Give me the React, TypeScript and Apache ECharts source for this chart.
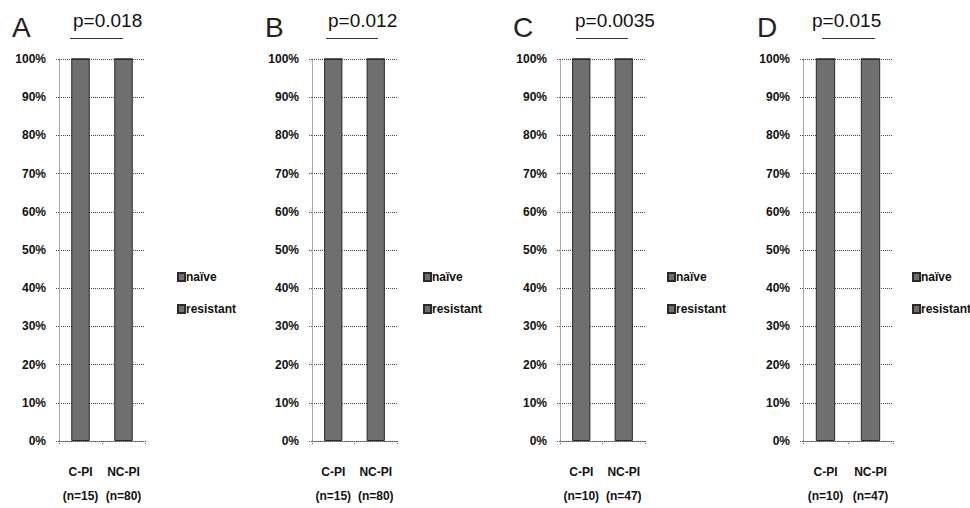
import React, { useEffect, useRef } from "react";
import * as echarts from "echarts";

const panelLetters = ["A", "B", "C", "D"];
const pValues = ["p=0.018", "p=0.012", "p=0.0035", "p=0.015"];
const categoriesA = ["C-PI\n(n=15)", "NC-PI\n(n=80)"];
const categoriesB = ["C-PI\n(n=15)", "NC-PI\n(n=80)"];
const categoriesC = ["C-PI\n(n=10)", "NC-PI\n(n=47)"];
const categoriesD = ["C-PI\n(n=10)", "NC-PI\n(n=47)"];
const naiveA = [100, 100];
const resistantA = [0, 0];
const naiveB = [100, 100];
const resistantB = [0, 0];
const naiveC = [100, 100];
const resistantC = [0, 0];
const naiveD = [100, 100];
const resistantD = [0, 0];
const yTicks = [0, 10, 20, 30, 40, 50, 60, 70, 80, 90, 100];
const seriesNames = ["naïve", "resistant"];

const categories = [categoriesA, categoriesB, categoriesC, categoriesD];
const naive = [naiveA, naiveB, naiveC, naiveD];
const resistant = [resistantA, resistantB, resistantC, resistantD];

const FONT = "'Liberation Sans', Arial, sans-serif";
const gridLefts = [59, 312, 560, 803];
const gridWidths = [86, 85, 85, 90];
const legendLefts = [172, 418, 662, 907];
const letterX = [12, 265, 513, 757];
const pX = [73, 328, 575, 812];
const ulines = [[70, 123], [326, 378], [576, 628], [822, 875]];

export default function App() {
  const ref = useRef<HTMLDivElement>(null);
  useEffect(() => {
    if (!ref.current) return;
    const chart = echarts.init(ref.current, null, { renderer: "svg" });
    const barStyle = { color: "#6f6f6f", borderColor: "#2a2a2a", borderWidth: 1 };
    const grid = gridLefts.map((l, i) => ({ left: l, top: 59, width: gridWidths[i], height: 383 }));
    const xAxis = categories.map((cats, i) => ({
      type: "category",
      gridIndex: i,
      data: cats,
      axisLine: { lineStyle: { color: "#555", type: "dotted" } },
      axisTick: { show: true, length: 4, lineStyle: { color: "#555", type: "dotted" } },
      axisLabel: {
        color: "#111",
        fontFamily: FONT,
        fontWeight: "bold",
        fontSize: 12,
        lineHeight: 24,
        margin: 19,
        interval: 0,
      },
    }));
    const yAxis = categories.map((_, i) => ({
      type: "value",
      gridIndex: i,
      min: 0,
      max: 100,
      interval: 10,
      axisLine: { show: true, lineStyle: { color: "#999", type: "dotted" } },
      axisTick: { show: true, length: 3, lineStyle: { color: "#555", type: "dotted" } },
      axisLabel: {
        formatter: (v: number) => (yTicks.includes(v) ? v + "%" : ""),
        color: "#111",
        fontFamily: FONT,
        fontWeight: "bold",
        fontSize: 12,
        margin: 13,
      },
      splitLine: { show: true, lineStyle: { color: "#444", type: "dotted" } },
    }));
    const series: any[] = [];
    categories.forEach((_, i) => {
      series.push({
        name: seriesNames[0],
        type: "bar",
        stack: "s" + i,
        xAxisIndex: i,
        yAxisIndex: i,
        data: naive[i],
        barWidth: "43%",
        itemStyle: barStyle,
      });
      series.push({
        name: seriesNames[1],
        type: "bar",
        stack: "s" + i,
        xAxisIndex: i,
        yAxisIndex: i,
        data: resistant[i],
        barWidth: "43%",
        itemStyle: barStyle,
      });
    });
    const legend = legendLefts.map((l) => ({
      left: l,
      top: 266,
      orient: "vertical",
      itemWidth: 7,
      itemHeight: 8,
      itemGap: 20,
      icon: "rect",
      selectedMode: false,
      data: seriesNames,
      textStyle: { color: "#111", fontFamily: FONT, fontWeight: "bold", fontSize: 12, padding: [0, 0, 0, -4] },
    }));
    const graphic: any[] = [];
    panelLetters.forEach((letter, i) => {
      graphic.push({
        type: "text",
        left: letterX[i],
        top: 13,
        style: { text: letter, font: "normal 28px 'Liberation Sans', Arial, sans-serif", fill: "#222" },
      });
      graphic.push({
        type: "text",
        left: pX[i],
        top: 11,
        style: { text: pValues[i], font: "normal 19px 'Liberation Sans', Arial, sans-serif", fill: "#111" },
      });
      graphic.push({
        type: "line",
        shape: { x1: ulines[i][0], y1: 38.5, x2: ulines[i][1], y2: 38.5 },
        style: { stroke: "#333", lineWidth: 1 },
      });
    });
    chart.setOption({
      animation: false,
      backgroundColor: "#fff",
      grid,
      xAxis,
      yAxis,
      series,
      legend,
      graphic,
    });
    return () => chart.dispose();
  }, []);
  return (
    <div
      ref={ref}
      style={{ position: "fixed", left: 0, top: 0, width: 970, height: 508, background: "#fff" }}
    />
  );
}
